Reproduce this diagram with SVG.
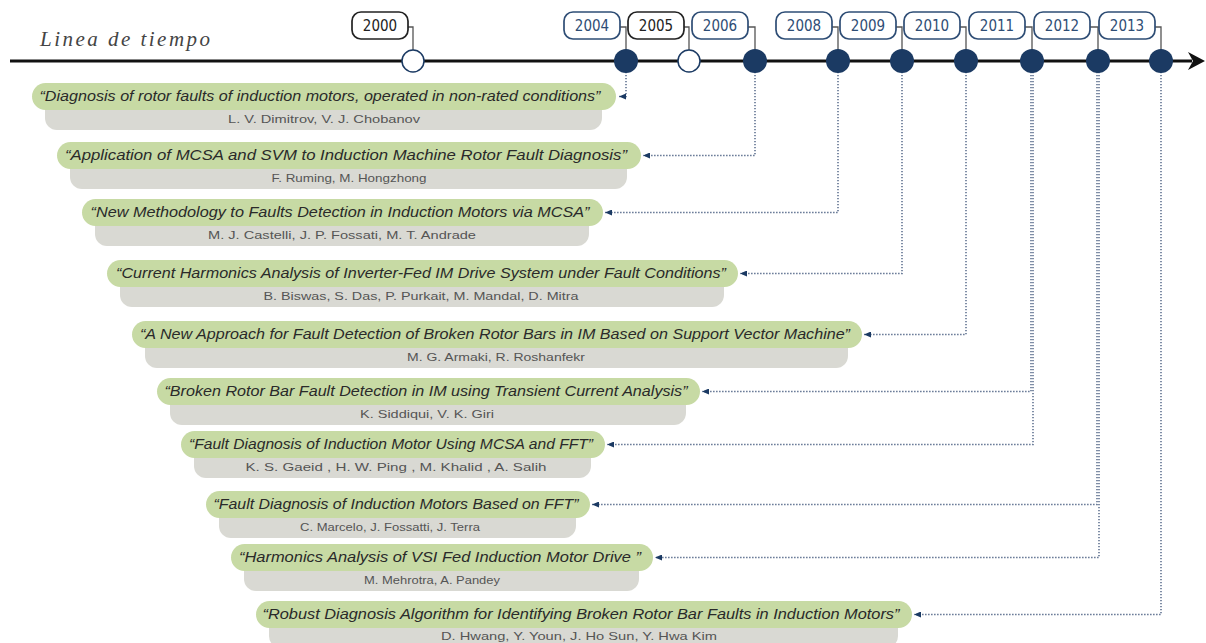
<svg xmlns="http://www.w3.org/2000/svg" width="1206" height="643" viewBox="0 0 1206 643">
<style>
.yb{fill:#fff;stroke:#2e4d75;stroke-width:1.7}
.yb.k{stroke:#222}
.yt{font-family:"DejaVu Sans Condensed","DejaVu Sans",sans-serif;font-size:15px;fill:#2e4d75;text-anchor:middle}
.yt.k{fill:#222}
.dotf{fill:#1b3a63}
.doto{fill:#fff;stroke:#1b3a63;stroke-width:1.5}
.lk{fill:none;stroke:#555;stroke-width:1.3}
.cn{fill:none;stroke:#4a5f82;stroke-width:1.4;stroke-dasharray:1.3 1.7}
.gp{fill:#c7daa4}
.gy{fill:#d9d9d3}
.ti{font-family:"Liberation Sans",Arial,sans-serif;font-style:italic;font-size:14px;fill:#2a2a2a;text-anchor:middle}
.au{font-family:"Liberation Sans",Arial,sans-serif;font-size:11px;fill:#555;text-anchor:middle}
</style>
<defs>
<marker id="ah" markerWidth="7" markerHeight="6" refX="7" refY="3" orient="auto" markerUnits="userSpaceOnUse">
<path d="M0,0 L7,3 L0,6 Z" fill="#1b3a63"/>
</marker>
</defs>
<rect width="1206" height="643" fill="#fff"/>
<text x="40" y="46" font-family="Liberation Serif,serif" font-style="italic" font-size="21" fill="#444" textLength="170" lengthAdjust="spacing">Linea de tiempo</text>
<g id="axis">
<line x1="10" y1="61" x2="1192" y2="61" stroke="#111" stroke-width="3"/>
<path d="M1188,52 L1205,61 L1188,70 L1193,61 Z" fill="#111"/>
</g>
<g id="connectors">
<path class="cn" d="M626,72 V96.5 H619" marker-end="url(#ah)"/>
<path class="cn" d="M755,72 V155.5 H643" marker-end="url(#ah)"/>
<path class="cn" d="M838,72 V212.5 H605" marker-end="url(#ah)"/>
<path class="cn" d="M902,72 V273.5 H740" marker-end="url(#ah)"/>
<path class="cn" d="M966,72 V334.5 H864" marker-end="url(#ah)"/>
<path class="cn" d="M1031,72 V391.5 H702" marker-end="url(#ah)"/>
<path class="cn" d="M1033,72 V444.5 H607" marker-end="url(#ah)"/>
<path class="cn" d="M1097,72 V504.5 H592" marker-end="url(#ah)"/>
<path class="cn" d="M1099,72 V557.5 H655" marker-end="url(#ah)"/>
<path class="cn" d="M1161,72 V614.5 H914" marker-end="url(#ah)"/>
</g>
<g id="y2000"><path class="lk" d="M408,27 H413 V50"/><rect class="yb k" x="352" y="12" width="56" height="27" rx="9"/><text class="yt k" x="380" y="31">2000</text><circle class="doto" cx="413" cy="61" r="11"/></g>
<g id="y2004"><path class="lk" d="M620,27 H626 V50"/><rect class="yb" x="564" y="12" width="56" height="27" rx="9"/><text class="yt" x="592" y="31">2004</text><circle class="dotf" cx="626" cy="61" r="12"/></g>
<g id="y2005"><path class="lk" d="M684,27 H689 V50"/><rect class="yb k" x="628" y="12" width="56" height="27" rx="9"/><text class="yt k" x="656" y="31">2005</text><circle class="doto" cx="689" cy="61" r="11"/></g>
<g id="y2006"><path class="lk" d="M748,27 H755 V50"/><rect class="yb" x="692" y="12" width="56" height="27" rx="9"/><text class="yt" x="720" y="31">2006</text><circle class="dotf" cx="755" cy="61" r="12"/></g>
<g id="y2008"><path class="lk" d="M832,27 H838 V50"/><rect class="yb" x="776" y="12" width="56" height="27" rx="9"/><text class="yt" x="804" y="31">2008</text><circle class="dotf" cx="838" cy="61" r="12"/></g>
<g id="y2009"><path class="lk" d="M896,27 H902 V50"/><rect class="yb" x="840" y="12" width="56" height="27" rx="9"/><text class="yt" x="868" y="31">2009</text><circle class="dotf" cx="902" cy="61" r="12"/></g>
<g id="y2010"><path class="lk" d="M960,27 H966 V50"/><rect class="yb" x="904" y="12" width="56" height="27" rx="9"/><text class="yt" x="932" y="31">2010</text><circle class="dotf" cx="966" cy="61" r="12"/></g>
<g id="y2011"><path class="lk" d="M1025,27 H1032 V50"/><rect class="yb" x="969" y="12" width="56" height="27" rx="9"/><text class="yt" x="997" y="31">2011</text><circle class="dotf" cx="1032" cy="61" r="12"/></g>
<g id="y2012"><path class="lk" d="M1090,27 H1098 V50"/><rect class="yb" x="1034" y="12" width="56" height="27" rx="9"/><text class="yt" x="1062" y="31">2012</text><circle class="dotf" cx="1098" cy="61" r="12"/></g>
<g id="y2013"><path class="lk" d="M1155,27 H1161 V50"/><rect class="yb" x="1099" y="12" width="56" height="27" rx="9"/><text class="yt" x="1127" y="31">2013</text><circle class="dotf" cx="1161" cy="61" r="12"/></g>

<g id="e1"><rect class="gy" x="45" y="93" width="557" height="37" rx="12"/><rect class="gp" x="32" y="83" width="584" height="27" rx="13.5"/><text class="ti" x="320" y="101" textLength="561" lengthAdjust="spacingAndGlyphs">“Diagnosis of rotor faults of induction motors, operated in non-rated conditions”</text><text class="au" x="324" y="123" textLength="192" lengthAdjust="spacingAndGlyphs">L. V. Dimitrov, V. J. Chobanov</text></g>
<g id="e2"><rect class="gy" x="70" y="152" width="557" height="37" rx="12"/><rect class="gp" x="57" y="142" width="584" height="27" rx="13.5"/><text class="ti" x="346" y="160" textLength="562" lengthAdjust="spacingAndGlyphs">“Application of MCSA and SVM to Induction Machine Rotor Fault Diagnosis”</text><text class="au" x="349" y="182" textLength="155" lengthAdjust="spacingAndGlyphs">F. Ruming, M. Hongzhong</text></g>
<g id="e3"><rect class="gy" x="95" y="209" width="494" height="37" rx="12"/><rect class="gp" x="82" y="199" width="521" height="27" rx="13.5"/><text class="ti" x="340" y="217" textLength="499" lengthAdjust="spacingAndGlyphs">“New Methodology to Faults Detection in Induction Motors via MCSA”</text><text class="au" x="342" y="239" textLength="268" lengthAdjust="spacingAndGlyphs">M. J. Castelli, J. P. Fossati, M. T. Andrade</text></g>
<g id="e4"><rect class="gy" x="120" y="270" width="604" height="37" rx="12"/><rect class="gp" x="107" y="260" width="631" height="27" rx="13.5"/><text class="ti" x="421" y="278" textLength="610" lengthAdjust="spacingAndGlyphs">“Current Harmonics Analysis of Inverter-Fed IM Drive System under Fault Conditions”</text><text class="au" x="421" y="300" textLength="315" lengthAdjust="spacingAndGlyphs">B. Biswas, S. Das, P. Purkait, M. Mandal, D. Mitra</text></g>
<g id="e5"><rect class="gy" x="145" y="331" width="703" height="37" rx="12"/><rect class="gp" x="132" y="321" width="730" height="27" rx="13.5"/><text class="ti" x="495" y="339" textLength="710" lengthAdjust="spacingAndGlyphs">“A New Approach for Fault Detection of Broken Rotor Bars in IM Based on Support Vector Machine”</text><text class="au" x="496" y="361" textLength="178" lengthAdjust="spacingAndGlyphs">M. G. Armaki, R. Roshanfekr</text></g>
<g id="e6"><rect class="gy" x="170" y="388" width="516" height="37" rx="12"/><rect class="gp" x="157" y="378" width="543" height="27" rx="13.5"/><text class="ti" x="426" y="396" textLength="523" lengthAdjust="spacingAndGlyphs">“Broken Rotor Bar Fault Detection in IM using Transient Current Analysis”</text><text class="au" x="427" y="418" textLength="134" lengthAdjust="spacingAndGlyphs">K. Siddiqui, V. K. Giri</text></g>
<g id="e7"><rect class="gy" x="194" y="441" width="397" height="37" rx="12"/><rect class="gp" x="181" y="431" width="424" height="27" rx="13.5"/><text class="ti" x="391" y="449" textLength="404" lengthAdjust="spacingAndGlyphs">“Fault Diagnosis of Induction Motor Using MCSA and FFT”</text><text class="au" x="396" y="471" textLength="301" lengthAdjust="spacingAndGlyphs">K. S. Gaeid , H. W. Ping , M. Khalid , A. Salih</text></g>
<g id="e8"><rect class="gy" x="219" y="501" width="357" height="37" rx="12"/><rect class="gp" x="206" y="491" width="384" height="27" rx="13.5"/><text class="ti" x="396" y="509" textLength="365" lengthAdjust="spacingAndGlyphs">“Fault Diagnosis of Induction Motors Based on FFT”</text><text class="au" x="390" y="531" textLength="180" lengthAdjust="spacingAndGlyphs">C. Marcelo, J. Fossatti, J. Terra</text></g>
<g id="e9"><rect class="gy" x="244" y="554" width="395" height="37" rx="12"/><rect class="gp" x="231" y="544" width="422" height="27" rx="13.5"/><text class="ti" x="440" y="562" textLength="402" lengthAdjust="spacingAndGlyphs">“Harmonics Analysis of VSI Fed Induction Motor Drive ”</text><text class="au" x="432" y="584" textLength="136" lengthAdjust="spacingAndGlyphs">M. Mehrotra, A. Pandey</text></g>
<g id="e10"><rect class="gy" x="269" y="611" width="629" height="37" rx="12"/><rect class="gp" x="256" y="601" width="656" height="27" rx="13.5"/><text class="ti" x="581" y="619" textLength="637" lengthAdjust="spacingAndGlyphs">“Robust Diagnosis Algorithm for Identifying Broken Rotor Bar Faults in Induction Motors”</text><text class="au" x="579" y="640" textLength="276" lengthAdjust="spacingAndGlyphs">D. Hwang, Y. Youn, J. Ho Sun, Y. Hwa Kim</text></g>
</svg>
